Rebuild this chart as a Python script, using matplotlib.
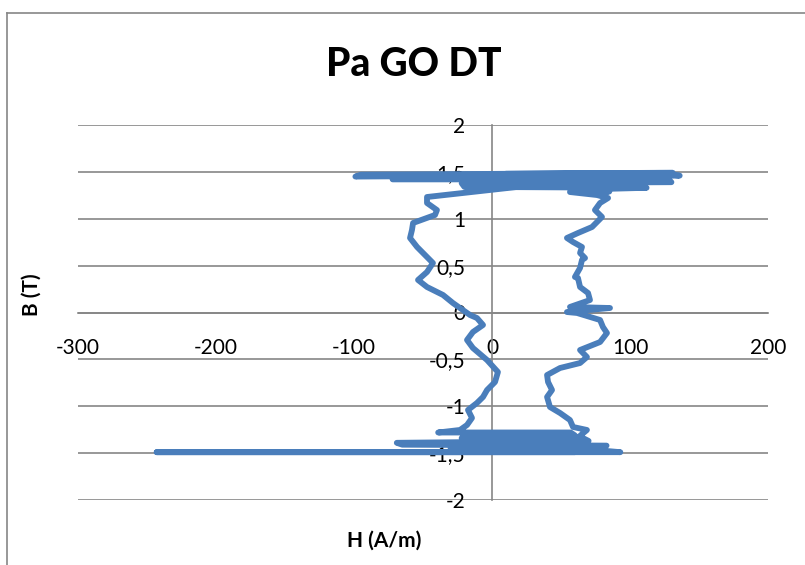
import matplotlib
matplotlib.use("Agg")
import matplotlib.pyplot as plt
from matplotlib.lines import Line2D
from matplotlib.ticker import FuncFormatter, MultipleLocator
import numpy as np

# ── data (H in A/m, B in T) ───────────────────────────────────────────────────
# descending branch, from the top band down to the bottom band
H_down = [18.1, -47.1, -47.1, -39.9, -41.3, -57.2, -58.0, -59.4, -54.3, -47.1,
          -42.8, -47.1, -53.6, -47.1, -35.5, -28.3, -23.2, -15.9, -10.9, -6.5,
          -13.8, -18.1, -13.8, -3.6, 4.3, 2.2, -3.6, -6.5, -10.9, -17.4,
          -14.5, -18.1, -23.2]
B_down = [1.339, 1.232, 1.168, 1.093, 1.040, 0.955, 0.880, 0.795, 0.699, 0.592,
          0.528, 0.432, 0.347, 0.272, 0.187, 0.101, 0.048, -0.027, -0.059, -0.133,
          -0.208, -0.293, -0.379, -0.507, -0.635, -0.741, -0.827, -0.901, -0.965, -1.040,
          -1.125, -1.200, -1.253]

# minor loops around negative saturation
H_bottom = [-39, 57, 60, -20, -22, 66, 70, -69, -65, 83, 80, -30, -28, 62,
            60, -243, 93, 70, 45, 62, 65]
B_bottom = [-1.28, -1.28, -1.31, -1.31, -1.34, -1.34, -1.37, -1.39, -1.41, -1.42,
            -1.45, -1.45, -1.47, -1.47, -1.49, -1.49, -1.49, -1.46, -1.40, -1.34, -1.30]

# ascending branch, from the bottom band up to the top band
H_up = [68.8, 58.7, 56.5, 49.3, 42.0, 39.9, 43.5, 40.6, 39.9, 49.3,
        63.8, 68.8, 63.8, 78.3, 83.3, 80.4, 78.3, 61.6, 54.3, 85.5,
        56.5, 71.0, 69.6, 63.8, 62.3, 60.1, 63.8, 65.2, 67.4, 63.8,
        65.2, 58.7, 54.3, 62.3, 72.5, 79.7, 74.6, 78.3, 84.1, 76.1, 56.5]
B_up = [-1.253, -1.221, -1.147, -1.072, -1.008, -0.901, -0.827, -0.741, -0.667, -0.592,
        -0.539, -0.475, -0.400, -0.315, -0.219, -0.155, -0.080, -0.005, 0.005, 0.048,
        0.059, 0.133, 0.208, 0.272, 0.368, 0.379, 0.475, 0.560, 0.581, 0.635,
        0.699, 0.752, 0.795, 0.848, 0.912, 1.019, 1.093, 1.168, 1.221, 1.253, 1.285]

# minor loops around positive saturation
H_top = [85, 60, 112, -20, -22, 130, 128, -72, -72, 136, 130, -99, -95, 131,
         120, 10, 12, 115, 110, 20, 22, 100, 95, 25]
B_top = [1.29, 1.31, 1.33, 1.34, 1.38, 1.39, 1.42, 1.42, 1.44, 1.46,
         1.47, 1.45, 1.47, 1.49, 1.49, 1.48, 1.44, 1.44, 1.41, 1.40,
         1.37, 1.37, 1.35, 1.34]

H = np.concatenate([H_down, H_bottom, H_up, H_top, H_down[:1]])
B = np.concatenate([B_down, B_bottom, B_up, B_top, B_down[:1]])

# ── style ──────────────────────────────────────────────────────────────────────
BLUE = "#4A7EBB"
GREY = "#868686"
FONT = "Lato"

fig = plt.figure(figsize=(8.05, 5.65), dpi=100)
ax = fig.add_axes([78 / 805, 65 / 565, 690 / 805, 375 / 565])

ax.plot(H, B, color=BLUE, linewidth=4.2, solid_joinstyle="round",
        solid_capstyle="round", zorder=3)

ax.set_xlim(-300, 200)
ax.set_ylim(-2, 2)
ax.xaxis.set_major_locator(MultipleLocator(100))
ax.yaxis.set_major_locator(MultipleLocator(0.5))
comma = FuncFormatter(lambda v, _: f"{v:g}".replace(".", ","))
ax.xaxis.set_major_formatter(comma)
ax.yaxis.set_major_formatter(comma)

ax.grid(axis="y", color=GREY, linewidth=1.2, zorder=1)
ax.spines["left"].set_position(("data", 0))
ax.spines["bottom"].set_position(("data", 0))
ax.spines["top"].set_visible(False)
ax.spines["right"].set_visible(False)
for s in ("left", "bottom"):
    ax.spines[s].set_color(GREY)
    ax.spines[s].set_linewidth(1.2)
    ax.spines[s].set_zorder(2)

ax.tick_params(axis="both", length=0, labelsize=15)
ax.tick_params(axis="y", pad=19)
ax.tick_params(axis="x", pad=18)
for lbl in ax.get_xticklabels() + ax.get_yticklabels():
    lbl.set_fontfamily(FONT)

# ── titles ─────────────────────────────────────────────────────────────────────
fig.text(414 / 805, 1 - 65 / 565, "Pa GO DT", ha="center", va="center",
         fontsize=28, fontweight="black", family=FONT)
fig.text(32 / 805, 1 - 295 / 565, "B (T)", ha="center", va="center",
         rotation=90, fontsize=15, fontweight="bold", family=FONT)
fig.text(384 / 805, 1 - 541 / 565, "H (A/m)", ha="center", va="center",
         fontsize=15, fontweight="bold", family=FONT)

# ── chart border (left and top edges visible) ──────────────────────────────────
x0, y0 = 6.5 / 805, 1 - 12.5 / 565
fig.add_artist(Line2D([x0, x0], [0, y0], color=GREY, linewidth=1.2))
fig.add_artist(Line2D([x0, 1], [y0, y0], color=GREY, linewidth=1.2))

fig.savefig("out.png", dpi=100, facecolor="white")
